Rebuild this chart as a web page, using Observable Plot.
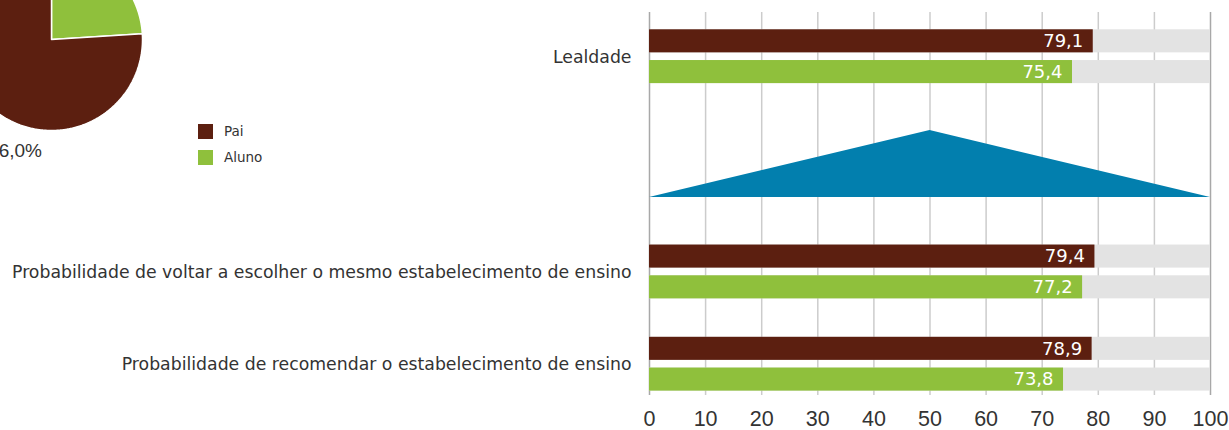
<!DOCTYPE html>
<html>
<head>
<meta charset="utf-8">
<script src="https://cdn.jsdelivr.net/npm/d3@7"></script>
<script src="https://cdn.jsdelivr.net/npm/@observablehq/plot@0.6"></script>
<style>
  html, body { margin: 0; padding: 0; background: #fff; overflow: hidden; }
  #root { position: relative; width: 1229px; height: 430px; overflow: hidden;
          font-family: "Liberation Sans", Arial, sans-serif; color: #333; }
  #root > * { position: absolute; }
  .sw { width: 15px; height: 15px; }
  .lg { font-size: 13.5px; line-height: 15px; font-family: "DejaVu Sans", sans-serif; }
</style>
</head>
<body>
<div id="root"></div>
<script>
// ---------------- data ----------------
const series = ["Pai", "Aluno"];
const seriesColors = ["#5c1f10", "#8fc03c"];
const categories = [
  "Lealdade",
  "Probabilidade de voltar a escolher o mesmo estabelecimento de ensino",
  "Probabilidade de recomendar o estabelecimento de ensino"
];
const paiValues = [79.1, 79.4, 78.9];
const alunoValues = [75.4, 77.2, 73.8];
const xTicks = [0, 10, 20, 30, 40, 50, 60, 70, 80, 90, 100];
const pieShares = [76.0, 24.0];          // Pai, Aluno (%)
const triangleX = [0, 50, 100];
const triangleY = [0, 1, 0];
const triangleColor = "#027fae";

// ---------------- helpers ----------------
const fmt = v => v.toFixed(1).replace(".", ",");
const root = document.getElementById("root");
const font = "'Liberation Sans', Arial, sans-serif";
const labelFont = "'DejaVu Sans', sans-serif";
const colorScale = {domain: series, range: seriesColors};

// bar rows
const rows = [];
categories.forEach((c, i) => {
  rows.push({cat: c, series: "Pai", value: paiValues[i], key: c + "|Pai"});
  rows.push({cat: c, series: "Aluno", value: alunoValues[i], key: c + "|Aluno"});
});
const k = (i, s) => categories[i] + "|" + s;
const yDomain = [
  k(0, "Pai"), k(0, "Aluno"), "_g1", "_g2", "_g3", "_g4", "_g5",
  k(1, "Pai"), k(1, "Aluno"), "_g6",
  k(2, "Pai"), k(2, "Aluno")
];

// ---------------- main bar chart ----------------
const main = Plot.plot({
  width: 1229, height: 430,
  marginLeft: 649, marginRight: 19, marginTop: 12, marginBottom: 35,
  x: {domain: [0, 100]},
  y: {type: "band", domain: yDomain, range: [21.6, 398.3], padding: 0.25, round: false, axis: null},
  color: colorScale,
  style: {fontFamily: font, background: "transparent", color: "#333"},
  marks: [
    Plot.ruleX(xTicks.filter(t => t > 0 && t < 100), {stroke: "#cccccc", strokeWidth: 1.5}),
    Plot.ruleX([xTicks[0], xTicks[xTicks.length - 1]], {stroke: "#a8a8a8", strokeWidth: 1.5}),
    Plot.barX(rows, {y: "key", x1: () => xTicks[0], x2: () => xTicks[xTicks.length - 1], fill: "#e3e3e3"}),
    Plot.barX(rows, {y: "key", x: "value", fill: "series"}),
    Plot.text(rows, {y: "key", x: "value", text: d => fmt(d.value), textAnchor: "end",
                     dx: -10, fill: "white", fontSize: 18, fontFamily: labelFont}),
    Plot.text(categories, {y: d => d + "|Pai", text: d => d, frameAnchor: "left",
                           textAnchor: "end", dx: -18, dy: 16, fontSize: 17.3, fill: "#333",
                           fontFamily: labelFont}),
    Plot.axisX(xTicks, {anchor: "bottom", tickSize: 0, tickPadding: 15, fontSize: 21.5,
                        fill: "#333", label: null, tickFormat: d => String(d)})
  ]
});
main.style.left = "0px"; main.style.top = "0px";
root.appendChild(main);

// ---------------- triangle overlay ----------------
const tri = triangleX.map((x, i) => ({x, y: triangleY[i]}));
const triPlot = Plot.plot({
  width: 1229, height: 67,
  marginLeft: 649, marginRight: 19, marginTop: 0, marginBottom: 0,
  x: {domain: [0, 100], axis: null},
  y: {domain: [0, 1], axis: null},
  style: {background: "transparent"},
  marks: [Plot.areaY(tri, {x: "x", y: "y", fill: triangleColor})]
});
triPlot.style.left = "0px"; triPlot.style.top = "130px";
root.appendChild(triPlot);

// ---------------- pie ----------------
const pieData = series.map((s, i) => ({series: s, share: pieShares[i]})).reverse();
const arcs = d3.pie().sort(null).value(d => d.share)(pieData);
const piePts = [];
arcs.forEach(a => {
  const s = a.data.series;
  piePts.push({series: s, x: 0, y: 0});
  const n = Math.max(2, Math.ceil((a.endAngle - a.startAngle) / 0.01));
  for (let j = 0; j <= n; j++) {
    const t = a.startAngle + (a.endAngle - a.startAngle) * j / n;
    piePts.push({series: s, x: Math.sin(t), y: Math.cos(t)});
  }
  piePts.push({series: s, x: 0, y: 0});
});
const piePlot = Plot.plot({
  width: 182, height: 182, margin: 0,
  x: {domain: [-1, 1], axis: null},
  y: {domain: [-1, 1], axis: null},
  color: colorScale,
  style: {background: "transparent", overflow: "visible"},
  marks: [
    Plot.line(piePts, {x: "x", y: "y", z: "series", fill: "series", stroke: "white",
                       strokeWidth: 1.5, curve: "linear", strokeLinejoin: "miter"})
  ]
});
piePlot.style.left = "-40.3px"; piePlot.style.top = "-52px";
root.appendChild(piePlot);

// pie label (visible one; the reference shows it clipped at the left edge)
const pieLabel = document.createElement("div");
pieLabel.textContent = fmt(pieShares[0]) + "%";
Object.assign(pieLabel.style, {left: "-60px", width: "102px", top: "140px", textAlign: "right",
  fontSize: "19px", color: "#333"});
root.appendChild(pieLabel);

// ---------------- legend ----------------
const legendTops = [124, 150];
series.forEach((s, i) => {
  const sw = document.createElement("div");
  sw.className = "sw";
  Object.assign(sw.style, {left: "198px", top: legendTops[i] + "px", background: seriesColors[i]});
  root.appendChild(sw);
  const tx = document.createElement("div");
  tx.className = "lg";
  tx.textContent = s;
  Object.assign(tx.style, {left: "224px", top: legendTops[i] + "px"});
  root.appendChild(tx);
});
</script>
</body>
</html>
